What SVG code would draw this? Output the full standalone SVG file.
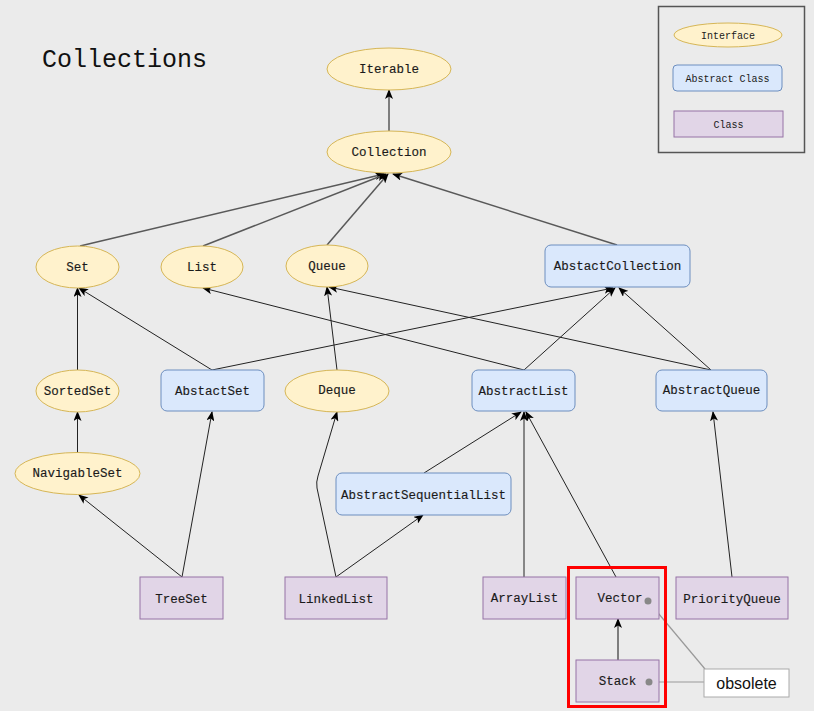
<svg xmlns="http://www.w3.org/2000/svg" width="814" height="711" viewBox="0 0 814 711">
<style>
.bg{fill:#ebebeb}
.ifc{fill:#fff2cc;stroke:#d6b656;stroke-width:1}
.abs{fill:#dae8fc;stroke:#6c8ebf;stroke-width:1}
.cls{fill:#e1d5e7;stroke:#9673a6;stroke-width:1}
.t{font-family:"Liberation Mono",monospace;font-size:12.5px;fill:#1a1a1a;text-anchor:middle;dominant-baseline:central;stroke:#1a1a1a;stroke-width:0.15}
.lt{font-family:"Liberation Mono",monospace;font-size:10px;fill:#1a1a1a;text-anchor:middle;dominant-baseline:central}
.e{fill:none;stroke:#222;stroke-width:1;marker-end:url(#arr)}
.eg{fill:none;stroke:#595959;stroke-width:1.5;marker-end:url(#arr)}
.note{fill:none;stroke:#999;stroke-width:1.2}
</style>
<defs>
<marker id="arr" viewBox="0 0 10 8" refX="9" refY="4" markerWidth="10" markerHeight="8" markerUnits="userSpaceOnUse" orient="auto">
<path d="M0,0 L10,4 L0,8 L2.5,4 z" fill="#000"/>
</marker>
</defs>
<rect class="bg" x="0" y="0" width="814" height="711"/>
<text x="42" y="67" style="font-family:'Liberation Mono',monospace;font-size:25px;fill:#111">Collections</text>

<g id="legend">
<rect x="658.5" y="6.5" width="146" height="146" fill="none" stroke="#555" stroke-width="1.5"/>
<ellipse class="ifc" cx="728" cy="35" rx="54" ry="12"/>
<text class="lt" x="728" y="36">Interface</text>
<rect class="abs" x="673" y="65" width="109" height="26" rx="4"/>
<text class="lt" x="727.5" y="79">Abstract Class</text>
<rect class="cls" x="674" y="111" width="109" height="26"/>
<text class="lt" x="728.5" y="125">Class</text>
</g>

<g id="edges">
<line class="eg" x1="389" y1="131" x2="389" y2="90"/>
<line class="eg" x1="80" y1="246" x2="384" y2="174"/>
<line class="eg" x1="203" y1="246" x2="386" y2="174"/>
<line class="eg" x1="327" y1="245" x2="388" y2="174"/>
<line class="eg" x1="617" y1="245" x2="393" y2="174"/>
<line class="e" x1="77.5" y1="370" x2="77.5" y2="288"/>
<line class="e" x1="212" y1="370" x2="79" y2="288"/>
<line class="e" x1="212" y1="370" x2="613" y2="288"/>
<line class="e" x1="337" y1="370" x2="327" y2="287"/>
<line class="e" x1="524" y1="370" x2="203" y2="288"/>
<line class="e" x1="524" y1="370" x2="615" y2="288"/>
<line class="e" x1="711" y1="370" x2="329" y2="287"/>
<line class="e" x1="711" y1="370" x2="619" y2="288"/>
<line class="e" x1="77.5" y1="453" x2="77.5" y2="412"/>
<line class="e" x1="182" y1="577" x2="79" y2="495"/>
<line class="e" x1="182" y1="577" x2="212" y2="412"/>
<path class="e" d="M336,577 L317,488 Q316,482 318,476 L337,412"/>
<line class="e" x1="336" y1="577" x2="423" y2="515"/>
<line class="e" x1="424" y1="473" x2="521" y2="412"/>
<line class="e" x1="524" y1="577" x2="524" y2="412"/>
<line class="e" x1="616" y1="577" x2="526" y2="412"/>
<line class="e" x1="732" y1="577" x2="713" y2="412"/>
<line class="eg" x1="618" y1="660" x2="618" y2="619"/>
<line class="note" x1="705" y1="669" x2="648" y2="601"/>
<line class="note" x1="704" y1="682" x2="649" y2="682"/>
</g>

<g id="Iterable"><ellipse class="ifc" cx="389" cy="69" rx="62" ry="21"/><text class="t" x="389" y="70">Iterable</text></g>
<g id="Collection"><ellipse class="ifc" cx="389" cy="152" rx="62" ry="21"/><text class="t" x="389" y="153">Collection</text></g>
<g id="Set"><ellipse class="ifc" cx="77.5" cy="267" rx="41.5" ry="21"/><text class="t" x="77.5" y="268">Set</text></g>
<g id="List"><ellipse class="ifc" cx="202" cy="267" rx="41" ry="21"/><text class="t" x="202" y="268">List</text></g>
<g id="Queue"><ellipse class="ifc" cx="327" cy="266" rx="41" ry="21"/><text class="t" x="327" y="267">Queue</text></g>
<g id="AbstactCollection"><rect class="abs" x="545" y="245" width="145" height="42" rx="6"/><text class="t" x="617.5" y="267">AbstactCollection</text></g>
<g id="SortedSet"><ellipse class="ifc" cx="77.5" cy="391" rx="41.5" ry="21"/><text class="t" x="77.5" y="392">SortedSet</text></g>
<g id="AbstactSet"><rect class="abs" x="161" y="370" width="103" height="41" rx="6"/><text class="t" x="212.5" y="392">AbstactSet</text></g>
<g id="Deque"><ellipse class="ifc" cx="337" cy="391" rx="52" ry="21"/><text class="t" x="337" y="391">Deque</text></g>
<g id="AbstractList"><rect class="abs" x="472" y="370" width="103" height="41" rx="6"/><text class="t" x="523.5" y="392">AbstractList</text></g>
<g id="AbstractQueue"><rect class="abs" x="656" y="370" width="111" height="41" rx="6"/><text class="t" x="711.5" y="391">AbstractQueue</text></g>
<g id="NavigableSet"><ellipse class="ifc" cx="77.5" cy="473.5" rx="62.5" ry="21"/><text class="t" x="77.5" y="474">NavigableSet</text></g>
<g id="AbstractSequentialList"><rect class="abs" x="336" y="473" width="175" height="42" rx="6"/><text class="t" x="423.5" y="495.5">AbstractSequentialList</text></g>
<g id="TreeSet"><rect class="cls" x="140" y="577" width="83" height="42"/><text class="t" x="181.5" y="600">TreeSet</text></g>
<g id="LinkedList"><rect class="cls" x="285" y="577" width="102" height="42"/><text class="t" x="336" y="600">LinkedList</text></g>
<g id="ArrayList"><rect class="cls" x="483" y="577" width="83" height="42"/><text class="t" x="524.5" y="599">ArrayList</text></g>
<g id="Vector"><rect class="cls" x="576" y="577" width="83" height="42"/><text class="t" x="620" y="599">Vector</text><circle cx="648" cy="601" r="3.5" fill="#888"/></g>
<g id="PriorityQueue"><rect class="cls" x="676" y="577" width="112" height="42"/><text class="t" x="732" y="600">PriorityQueue</text></g>
<g id="Stack"><rect class="cls" x="576" y="660" width="83" height="42"/><text class="t" x="617.5" y="682">Stack</text><circle cx="649" cy="682" r="3.5" fill="#888"/></g>
<g id="obsolete"><rect x="704" y="669" width="85" height="28" fill="#fff" stroke="#aaa" stroke-width="1"/><text x="746.5" y="683.5" style="font-family:'Liberation Sans',Arial,sans-serif;font-size:16px;fill:#111;text-anchor:middle;dominant-baseline:central">obsolete</text></g>
<rect id="highlight" x="568.5" y="567.5" width="97" height="139" fill="none" stroke="#ff0000" stroke-width="3"/>
</svg>
